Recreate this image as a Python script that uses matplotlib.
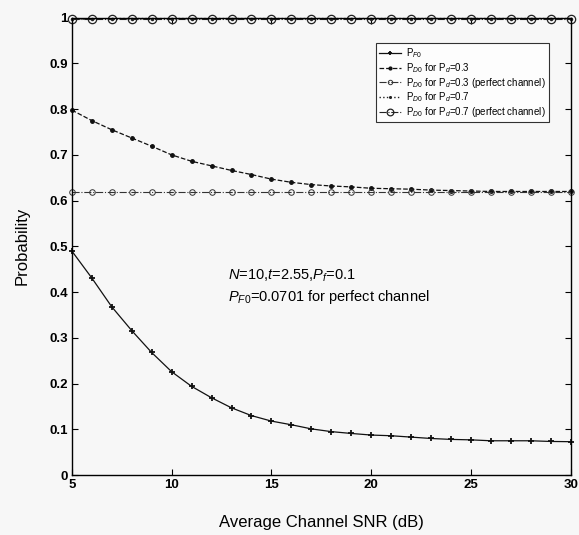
import matplotlib
matplotlib.use("Agg")
import matplotlib.pyplot as plt
from matplotlib.ticker import FuncFormatter

snr = list(range(5, 31))
pf0 = [0.490, 0.431, 0.368, 0.316, 0.268, 0.226, 0.194, 0.169, 0.147, 0.130,
       0.118, 0.110, 0.101, 0.095, 0.091, 0.0875, 0.086, 0.083, 0.080, 0.078,
       0.077, 0.075, 0.075, 0.075, 0.0735, 0.073]
pd03 = [0.798, 0.775, 0.755, 0.737, 0.719, 0.700, 0.686, 0.676, 0.666, 0.657,
        0.647, 0.640, 0.635, 0.632, 0.630, 0.627, 0.626, 0.625, 0.623, 0.622,
        0.621, 0.620, 0.620, 0.620, 0.620, 0.620]
pd03_perfect = [0.619] * 26
pd07 = [0.997, 0.997, 0.998, 0.998, 0.998, 0.998, 0.998, 0.998, 0.998, 0.998,
        0.998, 0.998, 0.998, 0.998, 0.998, 0.998, 0.998, 0.998, 0.998, 0.998,
        0.998, 0.998, 0.998, 0.998, 0.998, 0.998]
pd07_perfect = [0.998] * 26

labels = [r"P$_{F0}$",
          r"P$_{D0}$ for P$_d$=0.3",
          r"P$_{D0}$ for P$_d$=0.3 (perfect channel)",
          r"P$_{D0}$ for P$_d$=0.7",
          r"P$_{D0}$ for P$_d$=0.7 (perfect channel)"]
xticks = [5, 10, 15, 20, 25, 30]
yticks = [0, 0.1, 0.2, 0.3, 0.4, 0.5, 0.6, 0.7, 0.8, 0.9, 1.0]

plt.rcParams['font.family'] = ['Liberation Sans', 'DejaVu Sans']
plt.rcParams['mathtext.fontset'] = 'custom'
plt.rcParams['mathtext.rm'] = 'Liberation Sans'
plt.rcParams['mathtext.it'] = 'Liberation Sans:italic'

bg = '#f7f7f7'
fig = plt.figure(figsize=(5.79, 5.35), dpi=100, facecolor=bg)
ax = fig.add_axes([0.124, 0.112, 0.862, 0.855], facecolor=bg)

ax.plot(snr, pf0, '-', color='#111111', lw=0.9, marker='+', ms=4, mew=1.3,
        label=labels[0], clip_on=False)
ax.plot(snr, pd03, '--', color='#111111', lw=0.9, marker='.', ms=5,
        label=labels[1], clip_on=False)
ax.plot(snr, pd03_perfect, '-.', color='#333333', lw=0.8, marker='o', ms=4,
        mfc='none', mew=0.7, label=labels[2], clip_on=False)
ax.plot(snr, pd07, ':', color='#222222', lw=1.0, marker='.', ms=3,
        label=labels[3], clip_on=False)
ax.plot(snr, pd07_perfect, '-.', color='#222222', lw=0.8, marker='o', ms=6,
        mfc='none', mew=0.9, label=labels[4], clip_on=False)

ax.set_xlim(5, 30)
ax.set_ylim(0, 1)
ax.set_xticks(xticks)
ax.set_yticks(yticks)
ax.yaxis.set_major_formatter(FuncFormatter(lambda v, p: ('%g' % v)))
ax.tick_params(direction='in', length=4, width=0.8, top=True, right=True,
               labelsize=9.5, pad=3)
for lab in ax.get_xticklabels() + ax.get_yticklabels():
    lab.set_fontweight('bold')
for s in ax.spines.values():
    s.set_linewidth(1.0)

ax.set_xlabel('Average Channel SNR (dB)', fontsize=12, labelpad=17)
ax.set_ylabel('Probability', fontsize=12, labelpad=14)

ax.text(12.8, 0.428, r"$N$=10,$t$=2.55,$P_f$=0.1", fontsize=10.5)
ax.text(12.8, 0.380, r"$P_{F0}$=0.0701 for perfect channel", fontsize=10.5)

leg = ax.legend(loc='upper right', bbox_to_anchor=(0.965, 0.955), fontsize=7,
                frameon=True, fancybox=False, edgecolor='black',
                facecolor='white', handlelength=2.2, labelspacing=0.08,
                borderpad=0.35, handletextpad=0.5, markerscale=0.8)
leg.get_frame().set_linewidth(0.8)

fig.savefig('out.png', dpi=100, facecolor=bg)
